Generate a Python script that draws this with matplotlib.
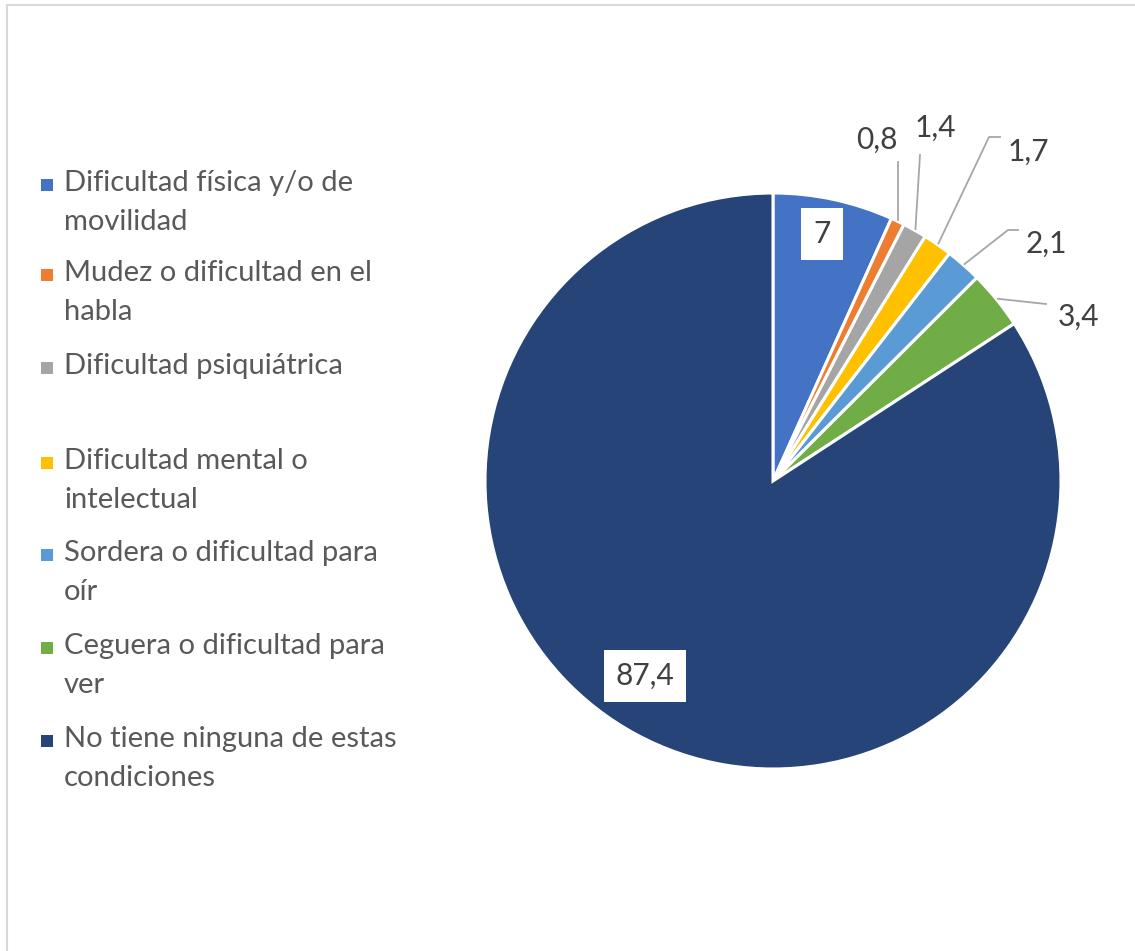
import matplotlib
matplotlib.use("Agg")
import matplotlib.pyplot as plt
import numpy as np

plt.rcParams['font.family'] = ['Lato', 'DejaVu Sans']

categories = [
    "Dificultad física y/o de\nmovilidad",
    "Mudez o dificultad en el\nhabla",
    "Dificultad psiquiátrica",
    "Dificultad mental o\nintelectual",
    "Sordera o dificultad para\noír",
    "Ceguera o dificultad para\nver",
    "No tiene ninguna de estas\ncondiciones",
]
values = [7, 0.8, 1.4, 1.7, 2.1, 3.4, 87.4]
value_labels = ["7", "0,8", "1,4", "1,7", "2,1", "3,4", "87,4"]
colors = ["#4472c4", "#ed7d31", "#a5a5a5", "#ffc000", "#5b9bd5", "#70ad47", "#264478"]

W, H = 1135, 951
CX, CY, R = 773, 481, 288


def px(x, y):
    # pixel (from top-left) -> data coords, pie centre at origin, radius 1
    return (x - CX) / R, (CY - y) / R


fig = plt.figure(figsize=(W / 100, H / 100), dpi=100)
ax = fig.add_axes([0, 0, 1, 1])

wedges, _ = ax.pie(values, colors=colors, startangle=90, counterclock=False,
                   radius=1, center=(0, 0), frame=True,
                   wedgeprops=dict(edgecolor='white', linewidth=2.2))
ax.set_xlim(-CX / R, (W - CX) / R)
ax.set_ylim((CY - H) / R, CY / R)
ax.axis('off')

# chart frame (only top and left edges are visible in the crop)
ax.plot([px(7, 5)[0], px(W + 10, 5)[0]], [px(7, 5)[1]] * 2, color='#d9d9d9', lw=1.5, clip_on=False)
ax.plot([px(7, 5)[0]] * 2, [px(7, 5)[1], px(7, H + 10)[1]], color='#d9d9d9', lw=1.5, clip_on=False)


def mid_point(w, r=1.0):
    a = np.deg2rad((w.theta1 + w.theta2) / 2)
    return r * np.cos(a), r * np.sin(a)


# inside labels (white boxes)
box = dict(boxstyle='square,pad=0.4', fc='white', ec='none')
for i, pos in [(0, (822, 234)), (6, (645, 676))]:
    x, y = px(*pos)
    ax.text(x, y, value_labels[i], ha='center', va='center', fontsize=21.5,
            color='#404040', bbox=box)

# outside labels with leader lines (elbow + text position in pixels)
outside = {
    1: ([(899, 162)], (877, 140)),
    2: ([(920, 155)], (935, 128)),
    3: ([(989, 137), (1000, 137)], (1028, 152)),
    4: ([(1008, 230), (1018, 230)], (1046, 244)),
    5: ([(1046, 304)], (1078, 317)),
}
for i, (pts, tpos) in outside.items():
    sx, sy = mid_point(wedges[i], 1.005)
    xs = [sx] + [px(*p)[0] for p in pts]
    ys = [sy] + [px(*p)[1] for p in pts]
    if i == 1:
        xs[-1] = xs[0]
    ax.plot(xs, ys, color='#a6a6a6', lw=1.3)
    tx, ty = px(*tpos)
    ax.text(tx, ty, value_labels[i], ha='center', va='center', fontsize=21.5,
            color='#404040')

# legend
rows = [185, 275, 368, 463, 555, 648, 741]
for lab, col, y in zip(categories, colors, rows):
    mx, my = px(47, y)
    ax.add_patch(plt.Rectangle((mx - 6 / R, my - 6 / R), 12 / R, 12 / R,
                               facecolor=col, edgecolor='none'))
    tx, ty = px(64, y - 15)
    ax.text(tx, ty, lab, ha='left', va='top', fontsize=21, color='#595959',
            linespacing=1.6)

fig.savefig('out.png', dpi=100, facecolor='white')
